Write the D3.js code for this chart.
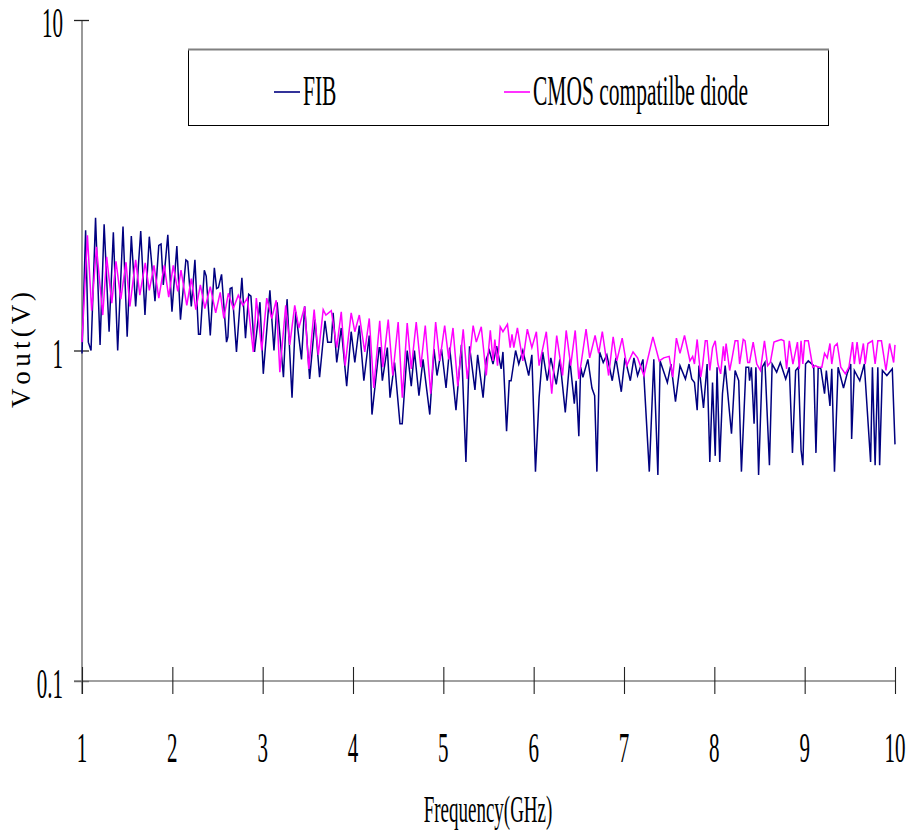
<!DOCTYPE html>
<html>
<head>
<meta charset="utf-8">
<script src="https://cdn.jsdelivr.net/npm/d3@7"></script>
<style>
  body { margin: 0; background: #fff; }
  svg { display: block; }
  text { font-family: "Liberation Serif", "Times New Roman", serif; fill: #000; }
</style>
</head>
<body>
<svg id="chart" width="907" height="835"></svg>
<script>
// Frequency axis (GHz) and output-voltage axis (V, log)
const freqTicks = [1, 2, 3, 4, 5, 6, 7, 8, 9, 10];
const voltTicks = [0.1, 1, 10];
const voltTickLabels = ["0.1", "1", "10"];
const seriesNames = ["FIB", "CMOS compatilbe diode"];
const seriesColors = ["#000080", "#FF00FF"];
const xTitle = "Frequency(GHz)";
const yTitle = "V o u t ( V )";

// FIB: measured Vout vs frequency
const fibFreq = [
  1.00, 1.04, 1.07, 1.10, 1.15, 1.20, 1.245, 1.30, 1.347, 1.395, 1.454, 1.50, 1.546, 1.594, 1.65, 1.697,
  1.745, 1.808, 1.85, 1.875, 1.90, 1.95, 1.996, 2.05, 2.09, 2.15, 2.17, 2.21, 2.25, 2.29, 2.31, 2.354,
  2.375, 2.42, 2.465, 2.49, 2.51, 2.545, 2.60, 2.615, 2.64, 2.66, 2.71, 2.77, 2.81, 2.845, 2.87, 2.91,
  2.97, 3.007, 3.08, 3.125, 3.16, 3.23, 3.27, 3.325, 3.366, 3.43, 3.465, 3.52, 3.58, 3.63, 3.69, 3.72,
  3.76, 3.78, 3.82, 3.87, 3.93, 3.98, 4.02, 4.07, 4.12, 4.18, 4.21, 4.29, 4.30, 4.325, 4.38, 4.41,
  4.46, 4.52, 4.545, 4.60, 4.645, 4.68, 4.73, 4.775, 4.85, 4.897, 4.93, 4.98, 5.03, 5.07, 5.14, 5.20,
  5.25, 5.29, 5.35, 5.38, 5.44, 5.475, 5.51, 5.55, 5.59, 5.64, 5.66, 5.70, 5.73, 5.75, 5.80, 5.835,
  5.88, 5.945, 5.98, 6.02, 6.06, 6.10, 6.15, 6.19, 6.25, 6.29, 6.35, 6.40, 6.45, 6.47, 6.50, 6.52,
  6.545, 6.60, 6.645, 6.675, 6.70, 6.73, 6.77, 6.81, 6.87, 6.91, 6.97, 7.01, 7.07, 7.11, 7.15, 7.21,
  7.28, 7.33, 7.375, 7.40, 7.48, 7.52, 7.57, 7.62, 7.68, 7.72, 7.75, 7.78, 7.81, 7.83, 7.88, 7.92,
  7.95, 7.98, 8.01, 8.03, 8.06, 8.09, 8.12, 8.19, 8.23, 8.27, 8.30, 8.35, 8.38, 8.39, 8.41, 8.44,
  8.46, 8.49, 8.53, 8.56, 8.61, 8.64, 8.69, 8.73, 8.79, 8.83, 8.865, 8.90, 8.93, 8.96, 8.98, 9.01,
  9.04, 9.10, 9.125, 9.15, 9.18, 9.22, 9.24, 9.28, 9.30, 9.33, 9.37, 9.43, 9.47, 9.51, 9.52, 9.55,
  9.61, 9.66, 9.73, 9.75, 9.78, 9.81, 9.83, 9.86, 9.91, 9.97, 10.00
];
const fibVout = [
  0.98, 2.31, 1.06, 1.00, 2.52, 1.04, 2.41, 1.14, 2.28, 1.00, 2.37, 1.10, 2.22, 1.36, 2.30, 1.28,
  2.21, 1.41, 2.08, 2.10, 1.58, 2.24, 1.31, 2.07, 1.24, 1.88, 1.86, 1.36, 1.88, 1.12, 1.12, 1.75,
  1.68, 1.11, 1.78, 1.54, 1.55, 1.70, 1.06, 1.10, 1.54, 1.55, 0.99, 1.66, 1.09, 1.48, 1.46, 0.99,
  1.40, 0.85, 1.52, 1.00, 1.40, 0.83, 1.43, 0.72, 1.31, 0.94, 1.36, 0.82, 1.24, 0.83, 1.23, 1.06,
  1.06, 1.30, 0.92, 1.17, 0.78, 1.14, 0.92, 1.19, 0.81, 1.11, 0.64, 1.02, 1.02, 0.81, 1.02, 0.72,
  0.92, 0.60, 0.60, 1.00, 0.78, 1.00, 0.73, 0.94, 0.64, 1.01, 0.84, 1.01, 0.77, 1.02, 0.66, 1.04,
  0.46, 1.03, 0.76, 0.97, 0.72, 0.94, 1.00, 0.91, 1.03, 0.88, 0.99, 0.57, 0.81, 0.81, 1.00, 0.91,
  1.00, 0.84, 0.97, 0.43, 0.72, 0.99, 0.81, 0.95, 0.79, 0.94, 0.65, 0.94, 0.69, 0.81, 0.55, 0.89,
  0.83, 0.94, 0.77, 0.73, 0.43, 0.99, 0.92, 0.97, 0.81, 0.95, 0.75, 0.95, 0.81, 0.95, 0.84, 0.94,
  0.43, 0.94, 0.42, 0.93, 0.80, 0.91, 0.70, 0.90, 0.82, 0.91, 0.82, 0.80, 0.66, 0.90, 0.67, 0.91,
  0.46, 0.80, 0.48, 0.89, 0.46, 0.74, 0.90, 0.56, 0.87, 0.81, 0.43, 0.89, 0.89, 0.81, 0.89, 0.60,
  0.89, 0.42, 0.89, 0.92, 0.45, 0.91, 0.86, 0.92, 0.82, 0.89, 0.49, 0.87, 0.89, 0.50, 0.45, 0.91,
  0.93, 0.90, 0.49, 0.89, 0.88, 0.74, 0.87, 0.68, 0.88, 0.43, 0.89, 0.77, 0.85, 0.91, 0.54, 0.87,
  0.81, 0.91, 0.46, 0.89, 0.45, 0.89, 0.45, 0.87, 0.84, 0.88, 0.52
];

// CMOS compatible diode: measured Vout vs frequency
const cmosFreq = [
  1.00, 1.06, 1.107, 1.16, 1.23, 1.273, 1.33, 1.376, 1.43, 1.487, 1.53, 1.594, 1.64, 1.70, 1.745, 1.797,
  1.85, 1.91, 1.96, 2.01, 2.06, 2.096, 2.16, 2.21, 2.26, 2.31, 2.36, 2.42, 2.48, 2.53, 2.57, 2.62,
  2.675, 2.73, 2.78, 2.83, 2.896, 2.93, 2.99, 3.045, 3.10, 3.15, 3.19, 3.255, 3.30, 3.355, 3.40, 3.465,
  3.51, 3.57, 3.616, 3.67, 3.70, 3.76, 3.82, 3.87, 3.913, 3.98, 4.02, 4.07, 4.13, 4.18, 4.23, 4.296,
  4.33, 4.39, 4.44, 4.50, 4.546, 4.60, 4.645, 4.70, 4.75, 4.80, 4.86, 4.915, 4.96, 5.015, 5.06, 5.107,
  5.16, 5.22, 5.265, 5.33, 5.365, 5.42, 5.475, 5.52, 5.55, 5.57, 5.60, 5.63, 5.66, 5.71, 5.74, 5.76,
  5.78, 5.82, 5.88, 5.93, 5.98, 6.03, 6.06, 6.14, 6.20, 6.255, 6.32, 6.36, 6.41, 6.46, 6.50, 6.58,
  6.62, 6.68, 6.72, 6.76, 6.83, 6.88, 6.92, 6.98, 7.03, 7.10, 7.15, 7.22, 7.32, 7.39, 7.44, 7.50,
  7.54, 7.58, 7.62, 7.67, 7.73, 7.76, 7.78, 7.81, 7.85, 7.87, 7.90, 7.92, 7.95, 7.98, 8.01, 8.04,
  8.07, 8.10, 8.115, 8.13, 8.17, 8.20, 8.23, 8.26, 8.28, 8.32, 8.34, 8.37, 8.39, 8.43, 8.47, 8.51,
  8.555, 8.59, 8.62, 8.66, 8.70, 8.74, 8.77, 8.80, 8.83, 8.87, 8.92, 8.94, 8.96, 8.98, 9.00, 9.04,
  9.09, 9.12, 9.15, 9.19, 9.22, 9.25, 9.28, 9.30, 9.33, 9.36, 9.40, 9.45, 9.49, 9.53, 9.55, 9.58,
  9.61, 9.65, 9.67, 9.70, 9.75, 9.78, 9.81, 9.85, 9.90, 9.94, 9.985, 10.00
];
const cmosVout = [
  1.06, 2.23, 1.32, 2.06, 1.28, 1.92, 1.39, 1.86, 1.43, 1.85, 1.36, 1.88, 1.47, 1.84, 1.52, 1.81,
  1.44, 1.81, 1.45, 1.81, 1.51, 1.75, 1.37, 1.65, 1.33, 1.58, 1.34, 1.56, 1.30, 1.50, 1.25, 1.49,
  1.34, 1.47, 1.37, 1.44, 0.99, 1.44, 1.00, 1.44, 1.25, 1.42, 0.86, 1.37, 1.04, 1.37, 1.17, 1.36,
  0.88, 1.33, 0.97, 1.33, 1.28, 1.32, 1.02, 1.31, 0.90, 1.30, 1.14, 1.28, 0.99, 1.25, 0.77, 1.23,
  0.89, 1.24, 0.84, 1.22, 0.72, 1.21, 0.88, 1.22, 0.89, 1.19, 0.74, 1.22, 0.93, 1.19, 0.94, 1.17,
  0.78, 1.16, 0.82, 1.19, 1.06, 1.18, 0.84, 1.15, 0.93, 1.08, 0.90, 1.18, 1.14, 1.20, 1.02, 1.12,
  1.02, 1.17, 0.93, 1.16, 1.02, 1.14, 0.90, 1.14, 0.74, 1.11, 0.84, 1.15, 0.90, 1.15, 0.82, 1.16,
  0.95, 1.11, 0.98, 1.14, 0.84, 1.10, 0.93, 1.09, 0.90, 0.99, 0.95, 0.84, 1.10, 0.93, 0.95, 0.96,
  0.83, 1.09, 0.98, 1.11, 0.93, 0.96, 0.91, 1.08, 0.83, 0.90, 1.07, 1.07, 0.87, 1.02, 1.07, 0.91,
  0.85, 1.03, 0.93, 1.05, 0.87, 0.96, 1.07, 1.07, 0.91, 1.08, 1.07, 0.92, 0.92, 1.06, 0.91, 0.87,
  1.07, 0.90, 0.92, 1.06, 1.07, 1.08, 1.07, 0.88, 1.07, 0.91, 1.06, 0.88, 1.07, 0.91, 1.07, 1.07,
  0.89, 0.90, 0.89, 0.89, 0.98, 0.95, 1.05, 0.91, 1.03, 1.05, 0.89, 0.85, 0.89, 1.06, 0.91, 1.06,
  0.91, 1.05, 0.91, 1.05, 1.07, 0.91, 1.07, 1.07, 0.87, 1.05, 0.92, 1.04
];

const svg = d3.select("#chart");
const plot = { left: 82, right: 895, top: 20, bottom: 681 };

const x = d3.scaleLinear().domain([1, 10]).range([plot.left, plot.right]);
const y = d3.scaleLog().domain([0.1, 10]).range([plot.bottom, plot.top]);

const axisGrey = "#808080";
const tickInk = "#222";

// condensed serif text helper (tall, narrow lettering)
function condensedText(g, str, tx, ty, size, anchor, sx) {
  return g.append("g")
    .attr("transform", `translate(${tx},${ty}) scale(${sx},1)`)
    .append("text")
    .attr("text-anchor", anchor)
    .attr("font-size", size)
    .text(str);
}

// Y axis
const yAxis = svg.append("g")
  .attr("transform", `translate(${plot.left},0)`)
  .call(d3.axisLeft(y).tickValues(voltTicks).tickFormat("").tickSizeOuter(0));
yAxis.select(".domain")
  .attr("d", `M0,${plot.bottom + 13}V${plot.top}`)
  .attr("stroke", axisGrey).attr("stroke-width", 1.6);
yAxis.selectAll(".tick line")
  .attr("x1", -8).attr("x2", 7)
  .attr("stroke", tickInk).attr("stroke-width", 1.3);

// X axis
const xAxis = svg.append("g")
  .attr("transform", `translate(0,${plot.bottom})`)
  .call(d3.axisBottom(x).tickValues(freqTicks).tickFormat("").tickSizeOuter(0));
xAxis.select(".domain")
  .attr("d", `M${plot.left - 8},0H${plot.right}`)
  .attr("stroke", axisGrey).attr("stroke-width", 1.6);
xAxis.selectAll(".tick line")
  .attr("y1", -14).attr("y2", 13)
  .attr("stroke", tickInk).attr("stroke-width", 1.1);

// tick labels
const labels = svg.append("g");
freqTicks.forEach(f => condensedText(labels, String(f), x(f), 762, 42, "middle", 0.5));
voltTicks.forEach((v, i) => condensedText(labels, voltTickLabels[i], 63, y(v) + 17, 42, "end", 0.5));

// axis titles
condensedText(labels, xTitle, 488, 822, 38, "middle", 0.5);
svg.append("text")
  .attr("transform", `translate(30,350) rotate(-90)`)
  .attr("text-anchor", "middle")
  .attr("font-size", 27)
  .attr("textLength", 116)
  .attr("lengthAdjust", "spacing")
  .text(yTitle);

// data lines
const line = d3.line().x(d => x(d[0])).y(d => y(d[1]));
const series = [d3.zip(fibFreq, fibVout), d3.zip(cmosFreq, cmosVout)];
series.forEach((pts, i) => {
  svg.append("path")
    .datum(pts)
    .attr("fill", "none")
    .attr("stroke", seriesColors[i])
    .attr("stroke-width", 1.5)
    .attr("stroke-linejoin", "miter")
    .attr("d", line);
});

// legend
const legend = svg.append("g");
legend.append("rect")
  .attr("x", 188.5).attr("y", 49.5).attr("width", 640).attr("height", 76)
  .attr("fill", "#fff").attr("stroke", "#000").attr("stroke-width", 1);
legend.append("line")
  .attr("x1", 188).attr("x2", 829).attr("y1", 49.5).attr("y2", 49.5)
  .attr("stroke", axisGrey).attr("stroke-width", 2);
const legendItems = [
  { lx: 274, tx: 303 },
  { lx: 504, tx: 533 }
];
legendItems.forEach((it, i) => {
  legend.append("line")
    .attr("x1", it.lx).attr("x2", it.lx + 26)
    .attr("y1", 92).attr("y2", 92)
    .attr("stroke", seriesColors[i]).attr("stroke-width", 1.6);
  condensedText(legend, seriesNames[i], it.tx, 105, 43, "start", 0.5);
});
</script>
</body>
</html>
